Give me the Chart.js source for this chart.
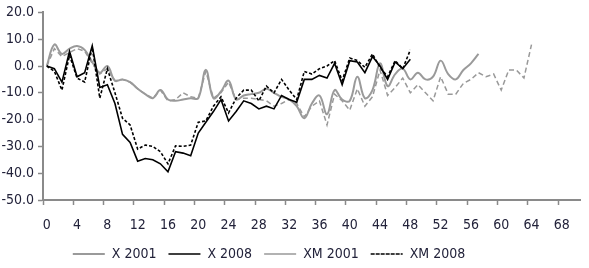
<!DOCTYPE html>
<html>
<head>
<meta charset="utf-8">
<script src="https://cdn.jsdelivr.net/npm/chart.js@4"></script>
<style>
  html, body { margin: 0; padding: 0; background: #fff; }
  canvas { display: block; }
</style>
</head>
<body>
<canvas id="chart" width="589" height="268"></canvas>
<script>
// months since the start of each episode
const categories = [
  '0','1','2','3','4','5','6','7','8','9','10','11','12','13','14','15','16','17','18','19',
  '20','21','22','23','24','25','26','27','28','29','30','31','32','33','34','35','36','37','38','39',
  '40','41','42','43','44','45','46','47','48','49','50','51','52','53','54','55','56','57','58','59',
  '60','61','62','63','64','65','66','67','68','69','70'
];

const x2001 = [0, 8, 4.5, 6.5, 7.5, 6, 1.5, -2.5, 0, -5.5, -5, -6, -8.5, -10.5, -12, -9, -12.5, -13, -12.5, -12,
  -12, -1.5, -12, -9.5, -5.5, -12.5, -11, -10.5, -10, -8.5, -10, -11.5, -12.5, -15, -19.5, -14, -11, -18, -9, -12.5,
  -13, -4, -12, -9, 1, -7.5, -3, -1, -5, -2.5, -5, -4, 2, -3, -5, -1.5, 1, 4.5];

const x2008 = [0, -1, -6, 5.5, -4, -2.5, 7.5, -8, -7, -14, -25.5, -28.5, -35.5, -34.5, -35, -36.5, -39.5, -32, -32.5, -33.5,
  -25, -21, -17, -12.5, -20.5, -17, -13, -14, -16, -15, -16, -11, -12.5, -13.5, -5, -5, -3.5, -4.5, 1, -7,
  2, 1.5, -2.5, 3.5, 0, -5, 1.5, -1, 2.5];

const xm2001 = [0, 6.5, 3.5, 5, 6.5, 5.5, 1, -3, -1, -5.5, -5, -6, -8.5, -10.5, -12, -9, -13, -12.5, -10, -11.5,
  -12, -2, -12, -10, -6, -12.5, -12, -12, -12.5, -13, -15, -14, -12.5, -14, -19, -15, -13, -22, -10.5, -13,
  -16.5, -8.5, -15, -11.5, -1.5, -11, -8, -4.5, -10, -7, -10, -13, -4, -10.5, -10.5, -6.5, -5, -2.5, -4, -3,
  -9, -1.5, -1.5, -4.5, 8];

const xm2008 = [0, -2, -9, 4, -4.5, -6, 7, -12, -1, -10, -19.5, -22, -31, -29.5, -30, -32, -36.5, -29.8, -30, -29.5,
  -21, -20.5, -15, -11.5, -17.5, -12, -9, -9, -13, -7.5, -10, -5, -9, -12.5, -2, -3, -1, 0, 2, -5.5,
  3, 2, -0.5, 4.5, -0.5, -4, 2, -1, 6];

const axisColor = '#8a8a8a';
const textColor = '#22223a';
const fontFamily = '"Liberation Sans Narrow", "DejaVu Sans Condensed", sans-serif';

// legend sits a little left of centre and lower than Chart.js puts it
const legendNudge = {
  id: 'legendNudge',
  afterLayout(chart) {
    const lg = chart.legend;
    const pad = lg.options.labels.padding;
    lg.left -= 22;
    lg.right -= 22;
    lg.top = 255 - pad - 8;
  }
};

new Chart(document.getElementById('chart'), {
  type: 'line',
  data: {
    labels: categories,
    datasets: [
      { label: 'X 2001', data: x2001, borderColor: '#9a9a9a', backgroundColor: '#9a9a9a',
        borderWidth: 2, tension: 0.4, order: 2 },
      { label: 'X 2008', data: x2008, borderColor: '#000', backgroundColor: '#000',
        borderWidth: 1.6, tension: 0, order: 0 },
      { label: 'XM 2001', data: xm2001, borderColor: '#999', backgroundColor: '#999',
        borderWidth: 1.5, borderDash: [5, 3], tension: 0, order: 3 },
      { label: 'XM 2008', data: xm2008, borderColor: '#000', backgroundColor: '#000',
        borderWidth: 1.6, borderDash: [3, 2], tension: 0, order: 1 }
    ]
  },
  options: {
    responsive: false,
    animation: false,
    layout: { padding: { top: 12, right: 7, left: 0, bottom: 0 } },
    elements: { point: { radius: 0 } },
    plugins: {
      tooltip: { enabled: false },
      legend: {
        position: 'bottom',
        labels: {
          boxWidth: 32,
          boxHeight: 0,
          padding: 12,
          color: textColor,
          font: { family: fontFamily, size: 14 },
          sort: (a, b) => a.datasetIndex - b.datasetIndex
        }
      }
    },
    scales: {
      x: {
        type: 'category',
        offset: true,
        afterFit: s => { s.height = 32; },
        border: { color: axisColor, width: 2 },
        grid: {
          offset: true,
          drawOnChartArea: false,
          tickLength: 5,
          tickWidth: 1.5,
          tickColor: c => (c.index % 4 === 0 ? axisColor : 'rgba(0,0,0,0)')
        },
        ticks: {
          autoSkip: false,
          maxRotation: 0,
          minRotation: 0,
          padding: 12,
          color: textColor,
          font: { family: fontFamily, size: 14 },
          callback: (v, i) => (i % 4 === 0 ? categories[i] : '')
        }
      },
      y: {
        min: -50,
        max: 20,
        afterFit: s => { s.width = 43; },
        border: { color: axisColor, width: 2 },
        grid: { drawOnChartArea: false, tickLength: 5, tickWidth: 1.5, tickColor: axisColor },
        ticks: {
          stepSize: 10,
          padding: 4,
          color: textColor,
          font: { family: fontFamily, size: 14 },
          callback: v => v.toFixed(1)
        }
      }
    }
  },
  plugins: [legendNudge]
});
</script>
</body>
</html>
